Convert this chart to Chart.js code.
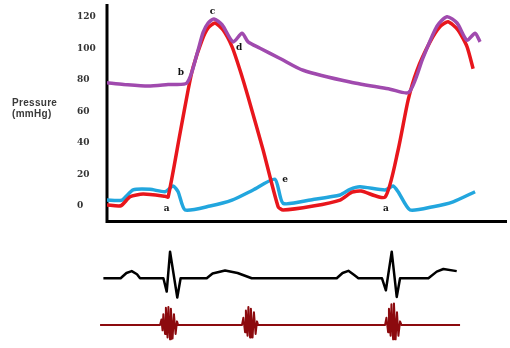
<!DOCTYPE html>
<html>
<head>
<meta charset="utf-8">
<script src="https://cdn.jsdelivr.net/npm/chart.js@4/dist/chart.umd.min.js"></script>
<style>
  html, body { margin: 0; padding: 0; background: #fff; }
  #wrap { width: 510px; height: 348px; }
</style>
</head>
<body>
<div id="wrap"><canvas id="cycle"></canvas></div>
<script>
// Cardiac cycle: pressures (mmHg), ECG (mV) and heart sounds, time in ms

// Aortic pressure
const aortaTime     = [0, 60, 148, 220, 288, 325, 346, 364, 385, 414, 454, 486, 508, 551, 623, 706, 875, 1019, 1087, 1138, 1188, 1224, 1260, 1296, 1325, 1343];
const aortaPressure = [78, 77, 76, 77, 78, 97, 110, 116, 118.5, 115, 104, 109.5, 104, 100, 93.5, 86, 78.5, 74, 72, 94, 114, 120, 116, 105, 109.5, 104];

// Left ventricular pressure
const lvTime     = [0, 50, 83, 130, 209, 220, 263, 292, 310, 342, 364, 389, 418, 450, 479, 508, 562, 616, 634, 742, 839, 882, 915, 1001, 1048, 1084, 1116, 1163, 1199, 1228, 1264, 1296, 1318];
const lvPressure = [0.5, 0, 5.7, 7.4, 6, 5.5, 46, 73.5, 88, 105, 112.8, 116, 111.5, 101, 86, 69, 35.4, -0.6, -2.7, -0.2, 3.6, 8.6, 9.3, 5.5, 35.4, 67, 86, 104, 113.7, 116.8, 111.5, 101, 87];

// Left atrial pressure
const laTime     = [0, 54, 94, 155, 209, 238, 256, 281, 371, 450, 526, 605, 634, 742, 839, 875, 911, 1001, 1030, 1048, 1091, 1174, 1246, 1325];
const laPressure = [3.6, 3.6, 10, 10.4, 8.9, 12.5, 8.9, -2.7, -0.2, 3.5, 10, 16.8, 1.5, 4, 6.8, 10.4, 12, 10, 12.5, 8.9, -2.7, -0.6, 2.5, 8.9];

// ECG
const ecgTime = [-13, 49, 70, 89, 108, 119, 203, 215, 227, 253, 265, 359, 380, 425, 470, 521, 827, 848, 869, 890, 905, 990, 1004, 1025, 1043, 1055, 1157, 1187, 1211, 1259];
const ecgMv   = [0, 0, 0.2, 0.27, 0.15, 0, 0, -0.5, 1.0, -0.72, 0, 0, 0.18, 0.29, 0.2, 0, 0, 0.2, 0.28, 0.12, 0, 0, -0.45, 1.0, -0.7, 0, 0, 0.25, 0.35, 0.27];

// Phonocardiogram (S1, S2, S1)
const pcgTime = [-25, 191, 196, 200, 203, 209, 212, 218, 221, 227, 230, 236, 241, 247, 252, 256,
                 486, 491, 497, 500, 506, 509, 515, 518, 524, 529, 535, 540, 544,
                 1001, 1006, 1012, 1015, 1021, 1024, 1030, 1033, 1039, 1044, 1049, 1055, 1060, 1271];
const pcgAmp  = [0, 0, 0.3, -0.3, 0.6, -0.5, 0.95, -0.7, 1.0, -0.8, 0.9, -0.75, 0.6, -0.5, 0.2, 0,
                 0, 0.4, -0.4, 0.8, -0.6, 1.0, -0.7, 0.9, -0.7, 0.7, -0.5, 0.2, 0,
                 0, 0.4, -0.4, 0.9, -0.6, 1.15, -0.8, 1.2, -0.8, 0.7, -0.6, 0.2, 0, 0];

// Pressure axis ticks
const pressureTicks = [0, 20, 40, 60, 80, 100, 120];

// Point labels
const markLetters  = ['a', 'b', 'c', 'd', 'e', 'a'];
const markTime     = [215, 266, 380, 476, 641, 1004];
const markPressure = [-1.7, 84.7, 123, 100.5, 16.8, -2];

const axisTitle = ['Pressure', '(mmHg)'];

const zip = (xs, ys) => xs.map((x, i) => ({ x: x, y: ys[i] }));

// Plain black axes bounding the pressure panel
const axesPlugin = {
  id: 'pressureAxes',
  beforeDatasetsDraw(chart) {
    const { ctx, scales: { x, y } } = chart;
    const x0 = x.getPixelForValue(0);
    const x1 = x.getPixelForValue(1440);
    const yTop = y.getPixelForValue(128);
    const yFloor = y.getPixelForValue(-10);
    ctx.save();
    ctx.strokeStyle = '#000';
    ctx.lineWidth = 3;
    ctx.lineCap = 'butt';
    ctx.beginPath();
    ctx.moveTo(x0, yTop);
    ctx.lineTo(x0, yFloor + 1.5);
    ctx.moveTo(x0 - 1.5, yFloor);
    ctx.lineTo(x1, yFloor);
    ctx.stroke();
    ctx.restore();
  }
};

// Letters on the curves and the pressure title
const labelsPlugin = {
  id: 'curveLabels',
  afterDatasetsDraw(chart) {
    const { ctx, scales: { x, y } } = chart;
    ctx.save();
    ctx.fillStyle = '#111';
    ctx.font = 'bold 9px "DejaVu Serif"';
    ctx.textAlign = 'center';
    ctx.textBaseline = 'middle';
    markLetters.forEach((t, i) => {
      ctx.fillText(t, x.getPixelForValue(markTime[i]), y.getPixelForValue(markPressure[i]));
    });
    ctx.fillStyle = '#3a3a3a';
    ctx.font = 'bold 10px "Liberation Sans"';
    ctx.letterSpacing = '0.3px';
    ctx.textAlign = 'left';
    ctx.fillText(axisTitle[0], 12, 103);
    ctx.fillText(axisTitle[1], 12, 114);
    ctx.restore();
  }
};

new Chart(document.getElementById('cycle'), {
  type: 'line',
  data: {
    datasets: [
      { label: 'Aortic pressure', data: zip(aortaTime, aortaPressure), borderColor: '#a04aae', borderWidth: 3.5, tension: 0.25, yAxisID: 'y' },
      { label: 'Left ventricular pressure', data: zip(lvTime, lvPressure), borderColor: '#e8161c', borderWidth: 3.5, tension: 0.2, yAxisID: 'y' },
      { label: 'Left atrial pressure', data: zip(laTime, laPressure), borderColor: '#22a6de', borderWidth: 3.5, tension: 0.2, yAxisID: 'y' },
      { label: 'ECG', data: zip(ecgTime, ecgMv), borderColor: '#000', borderWidth: 2.5, tension: 0, yAxisID: 'ecg', clip: false },
      { label: 'Heart sounds', data: zip(pcgTime, pcgAmp), borderColor: '#8c0a0e', borderWidth: 2, tension: 0, yAxisID: 'pcg', clip: false }
    ]
  },
  options: {
    responsive: true,
    maintainAspectRatio: false,
    animation: false,
    layout: { padding: { left: 77, right: 3, top: 0, bottom: 0 } },
    elements: { point: { radius: 0 }, line: { borderJoinStyle: 'round', borderCapStyle: 'butt' } },
    plugins: { legend: { display: false }, tooltip: { enabled: false } },
    scales: {
      x: { type: 'linear', display: false, min: 0, max: 1440 },
      y: {
        position: 'left',
        min: -90.3,
        max: 130.6,
        grid: { display: false },
        border: { display: false },
        ticks: {
          crossAlign: 'far',
          padding: 0,
          color: '#333',
          font: { family: '"DejaVu Serif"', size: 9, weight: 'bold' }
        },
        afterBuildTicks(scale) { scale.ticks = pressureTicks.map(v => ({ value: v })); },
        afterFit(scale) { scale.width = 30; scale.paddingTop = 0; scale.paddingBottom = 0; }
      },
      ecg: { display: false, min: -2.62, max: 10.46 },
      pcg: { display: false, min: -1.28, max: 18.06 }
    }
  },
  plugins: [axesPlugin, labelsPlugin]
});
</script>
</body>
</html>
